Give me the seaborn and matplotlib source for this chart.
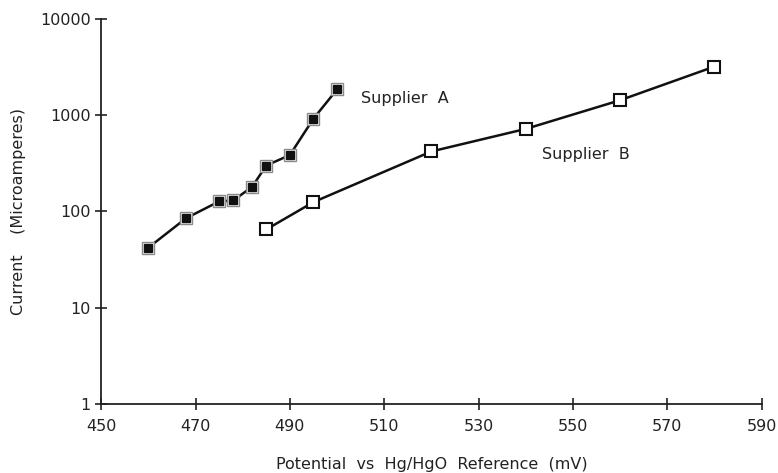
import numpy as np
import pandas as pd
import matplotlib
matplotlib.use("Agg")
import matplotlib.pyplot as plt
import seaborn as sns

# ====== data ======
potential_a = [460, 468, 475, 478, 482, 485, 490, 495, 500]
current_a = [42, 85, 127, 130, 180, 300, 385, 920, 1850]

potential_b = [485, 495, 520, 540, 560, 580]
current_b = [65, 125, 420, 720, 1430, 3200]

x_ticks = [450, 470, 490, 510, 530, 550, 570, 590]
y_ticks = [1, 10, 100, 1000, 10000]
y_tick_labels = ["1", "10", "100", "1000", "10000"]

df_a = pd.DataFrame({"potential": potential_a, "current": current_a})
df_b = pd.DataFrame({"potential": potential_b, "current": current_b})

# ====== style ======
sns.set_style("ticks")
plt.rcParams['font.family'] = ['DejaVu Sans']
plt.rcParams['font.size'] = 11.5

fig = plt.figure(figsize=(7.78, 4.73), dpi=100)
ax = fig.add_axes([0.13, 0.146, 0.849, 0.814])

# supplier A: black squares with a grey frame
sns.lineplot(data=df_a, x="potential", y="current", ax=ax, color="#111111",
             linewidth=1.8, marker="s", markersize=9,
             markerfacecolor="white", markeredgecolor="#8a8a8a",
             markeredgewidth=1.0)
ax.plot(potential_a, current_a, linestyle="none", marker="s", markersize=5.5,
        markerfacecolor="#111111", markeredgecolor="#111111")

# supplier B: open squares
sns.lineplot(data=df_b, x="potential", y="current", ax=ax, color="#111111",
             linewidth=1.8, marker="s", markersize=8.5,
             markerfacecolor="white", markeredgecolor="#111111",
             markeredgewidth=1.5)

ax.text(505, 1490, "Supplier  A", fontsize=11.5, va="center", color="#222222")
ax.text(543.5, 390, "Supplier  B", fontsize=11.5, va="center", color="#222222")

ax.set_yscale("log")
ax.set_xlim(450, 590)
ax.set_ylim(1, 10000)
ax.set_xticks(x_ticks)
ax.set_yticks(y_ticks)
ax.set_yticklabels(y_tick_labels)
ax.minorticks_off()
ax.tick_params(axis="both", direction="inout", length=9, width=1.2,
               labelsize=11.5, colors="#222222", pad=3)
ax.tick_params(axis="x", pad=6)

ax.set_xlabel("Potential  vs  Hg/HgO  Reference  (mV)", fontsize=11.5,
              color="#222222", labelpad=17)
ax.set_ylabel("Current    (Microamperes)", fontsize=11.5, color="#222222",
              labelpad=10)

sns.despine(ax=ax)
for s in ["left", "bottom"]:
    ax.spines[s].set_linewidth(1.3)
    ax.spines[s].set_color("#222222")

fig.savefig("out.png", dpi=100)
